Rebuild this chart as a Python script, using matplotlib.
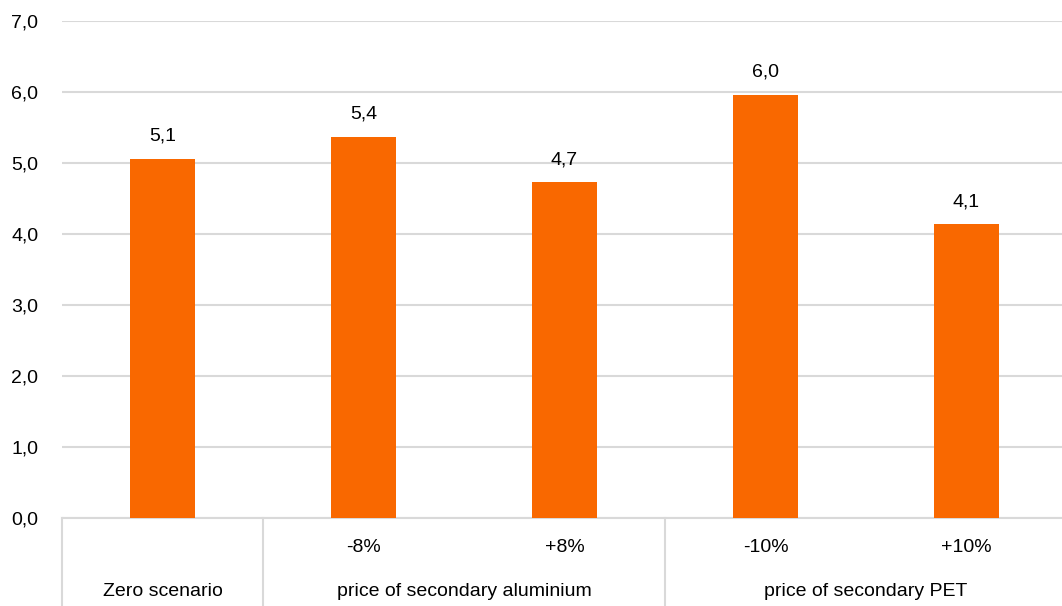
import matplotlib.pyplot as plt
import matplotlib.transforms as mtransforms

plt.rcParams['font.family'] = ['Liberation Sans', 'DejaVu Sans']

# data
sub_labels = ["", "-8%", "+8%", "-10%", "+10%"]
values = [5.06, 5.37, 4.73, 5.96, 4.14]
groups = ["Zero scenario", "price of secondary aluminium", "price of secondary PET"]
group_centers = [0, 1.5, 3.5]
group_edges = [-0.5, 0.5, 2.5, 4.5]
y_ticks = [0, 1, 2, 3, 4, 5, 6, 7]

bar_color = '#F96800'
grid_color = '#d9d9d9'
fs = 14

fig = plt.figure(figsize=(10.62, 6.06), dpi=100)
ax = fig.add_axes([62 / 1062, 88 / 606, 1005 / 1062, 497 / 606])

x = list(range(len(values)))
bars = ax.bar(x, values, width=0.32, color=bar_color, zorder=3)

for xi, v in zip(x, values):
    ax.annotate(f"{v:.1f}".replace('.', ','), (xi, v), xytext=(0, 10),
                textcoords='offset points', ha='center', va='bottom', fontsize=fs)

ax.set_xlim(-0.5, 4.5)
ax.set_ylim(0, 7)
ax.set_yticks(y_ticks)
ax.set_yticklabels([f"{t:.1f}".replace('.', ',') for t in y_ticks], fontsize=fs)
ax.set_xticks([])
ax.tick_params(axis='y', length=0, pad=17)
ax.grid(axis='y', color=grid_color, linewidth=1.5, zorder=0)
for side in ['top', 'right', 'left']:
    ax.spines[side].set_visible(False)
ax.spines['bottom'].set_color(grid_color)
ax.spines['bottom'].set_linewidth(1.5)

# multi-level category axis
trans = mtransforms.blended_transform_factory(ax.transData, ax.transAxes)
for e in group_edges:
    ax.plot([e, e], [0, -0.2], transform=trans, color=grid_color, linewidth=1.5,
            clip_on=False)
for xi, lab in zip(x, sub_labels):
    ax.text(xi, -0.060, lab, transform=trans, ha='center', va='center', fontsize=fs)
for gc, g in zip(group_centers, groups):
    ax.text(gc, -0.147, g, transform=trans, ha='center', va='center', fontsize=fs)

fig.savefig('out.png', dpi=100)
